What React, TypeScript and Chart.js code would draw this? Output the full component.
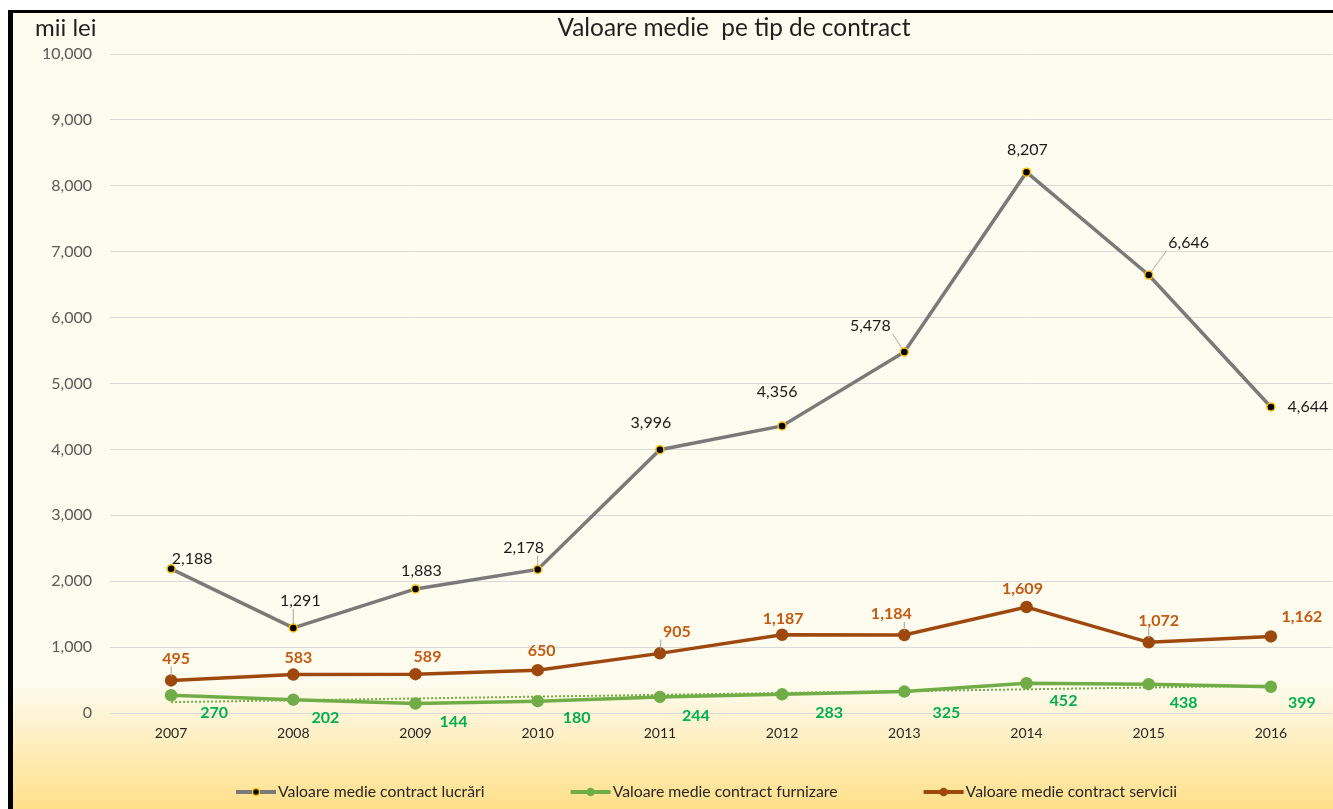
import React, { useEffect, useRef } from "react";
import { Chart, registerables } from "chart.js";

Chart.register(...registerables);

// ---- data ----
const years = ["2007", "2008", "2009", "2010", "2011", "2012", "2013", "2014", "2015", "2016"];
const lucrari = [2188, 1291, 1883, 2178, 3996, 4356, 5478, 8207, 6646, 4644];
const furnizare = [270, 202, 144, 180, 244, 283, 325, 452, 438, 399];
const servicii = [495, 583, 589, 650, 905, 1187, 1184, 1609, 1072, 1162];
// dotted linear trendline of "furnizare", read at its two ends
const trendFurnizare = [165, null, null, null, null, null, null, null, null, 415];
const yTicksMax = 10000;
const yTicksStep = 1000;

const seriesNames = [
  "Valoare medie contract lucrări",
  "Valoare medie contract furnizare",
  "Valoare medie contract servicii",
];
const titleText = "Valoare medie  pe tip de contract";
const unitText = "mii lei";

// ---- label layout (offsets of label centre from its point, px) ----
const lucrariLabelOff = [[21, -10], [7, -27], [6, -18], [-14, -22], [-9, -27], [-5, -34], [-34, -26], [1, -22], [40, -32], [37, 0]];
const lucrariLeader = [0, 1, 0, 1, 0, 0, 1, 0, 1, 0];
const serviciiLabelOff = [[5, -22], [5, -17], [12, -17], [4, -19], [17, -22], [1, -16], [-13, -21], [-4, -18], [10, -22], [31, -20]];
const serviciiLeader = [1, 0, 0, 0, 1, 0, 1, 0, 1, 0];
const furnizareLabelOff = [[43, 18], [32, 18], [38, 18], [39, 17], [36, 19], [47, 18], [42, 21], [37, 18], [35, 19], [31, 16]];

const GRAY = "#7A7A7A";
const GREEN = "#70AD47";
const BROWN = "#9E480E";
const FONT = "Lato, 'Open Sans', sans-serif";

const fmt = (v: number) => v.toLocaleString("en-US");

const overlayPlugin = {
  id: "overlay",
  afterDatasetsDraw(chart: any) {
    const ctx = chart.ctx as CanvasRenderingContext2D;
    const groups = [
      { ds: 0, values: lucrari, off: lucrariLabelOff, leader: lucrariLeader, color: "#1a1a1a", bold: false },
      { ds: 1, values: servicii, off: serviciiLabelOff, leader: serviciiLeader, color: "#C55A11", bold: true },
      { ds: 2, values: furnizare, off: furnizareLabelOff, leader: null as any, color: "#00B050", bold: true },
    ];
    ctx.save();
    for (const g of groups) {
      const meta = chart.getDatasetMeta(g.ds);
      ctx.font = `${g.bold ? "bold " : ""}16px ${FONT}`;
      meta.data.forEach((pt: any, i: number) => {
        const [dx, dy] = g.off[i];
        const lx = pt.x + dx;
        const ly = pt.y + dy;
        const text = fmt(g.values[i]);
        const w = ctx.measureText(text).width;
        if (g.leader && g.leader[i]) {
          const bx0 = lx - w / 2 - 2, bx1 = lx + w / 2 + 2, by0 = ly - 8, by1 = ly + 8;
          const nx = Math.min(Math.max(pt.x, bx0), bx1);
          const ny = Math.min(Math.max(pt.y, by0), by1);
          const vx = nx - pt.x, vy = ny - pt.y;
          const len = Math.hypot(vx, vy) || 1;
          ctx.strokeStyle = "#A6A6A6";
          ctx.lineWidth = 1;
          ctx.beginPath();
          ctx.moveTo(pt.x + (vx / len) * 4, pt.y + (vy / len) * 4);
          ctx.lineTo(nx, ny);
          ctx.stroke();
        }
        ctx.fillStyle = g.color;
        ctx.textAlign = "center";
        ctx.textBaseline = "middle";
        ctx.fillText(text, lx, ly);
      });
    }
    ctx.restore();
  },
  afterDraw(chart: any) {
    const ctx = chart.ctx as CanvasRenderingContext2D;
    const area = chart.chartArea;
    ctx.save();
    // title
    ctx.fillStyle = "#1f1f1f";
    ctx.font = `24.4px ${FONT}`;
    ctx.textAlign = "center";
    ctx.textBaseline = "middle";
    ctx.fillText(titleText, 721, 15);
    // unit
    ctx.font = `24px ${FONT}`;
    ctx.textAlign = "left";
    ctx.fillText(unitText, 22, 15);

    // legend
    const styles = [
      { color: GRAY, fill: "#000000", border: "#FFC000" },
      { color: GREEN, fill: GREEN, border: GREEN },
      { color: BROWN, fill: BROWN, border: BROWN },
    ];
    ctx.font = `15.8px ${FONT}`;
    let x = area.left + 126;
    const y = 779;
    seriesNames.forEach((name, i) => {
      const s = styles[i];
      ctx.strokeStyle = s.color;
      ctx.lineWidth = 4;
      ctx.beginPath();
      ctx.moveTo(x, y);
      ctx.lineTo(x + 40, y);
      ctx.stroke();
      ctx.beginPath();
      ctx.arc(x + 20, y, 3.5, 0, Math.PI * 2);
      ctx.fillStyle = s.fill;
      ctx.fill();
      ctx.lineWidth = 1.5;
      ctx.strokeStyle = s.border;
      ctx.stroke();
      ctx.fillStyle = "#262626";
      ctx.textAlign = "left";
      ctx.textBaseline = "middle";
      ctx.fillText(name, x + 42, y);
      x += 42 + ctx.measureText(name).width + 86;
    });
    ctx.restore();
  },
};

export default function App() {
  const ref = useRef<HTMLCanvasElement | null>(null);

  useEffect(() => {
    if (!ref.current) return;
    const chart = new Chart(ref.current, {
      type: "line",
      data: {
        labels: years,
        datasets: [
          {
            label: seriesNames[0],
            data: lucrari,
            borderColor: GRAY,
            borderWidth: 3.5,
            pointRadius: 4,
            pointBackgroundColor: "#000000",
            pointBorderColor: "#FFC000",
            pointBorderWidth: 1.5,
            tension: 0,
          },
          {
            label: seriesNames[2],
            data: servicii,
            borderColor: BROWN,
            borderWidth: 3.5,
            pointRadius: 4.5,
            pointBackgroundColor: BROWN,
            pointBorderColor: BROWN,
            tension: 0,
          },
          {
            label: seriesNames[1],
            data: furnizare,
            borderColor: GREEN,
            borderWidth: 3.5,
            pointRadius: 4.5,
            pointBackgroundColor: GREEN,
            pointBorderColor: GREEN,
            tension: 0,
          },
          {
            label: "trend",
            data: trendFurnizare as any,
            borderColor: GREEN,
            borderWidth: 2,
            borderDash: [2, 2],
            pointRadius: 0,
            spanGaps: true,
            tension: 0,
          },
        ],
      },
      options: {
        responsive: false,
        animation: false,
        layout: { autoPadding: false, padding: { top: 41, left: 0, right: 1, bottom: 56 } },
        plugins: {
          legend: { display: false },
          title: { display: false },
          tooltip: { enabled: false },
        },
        scales: {
          x: {
            offset: true,
            grid: { display: false, drawTicks: false },
            border: { display: false },
            ticks: { color: "#262626", font: { family: FONT, size: 14 }, padding: 12, maxRotation: 0 },
            afterFit: (s: any) => {
              s.height = 40;
              s.paddingLeft = 0;
              s.paddingRight = 0;
            },
          },
          y: {
            min: 0,
            max: yTicksMax,
            grid: { color: "#D9D9D9", lineWidth: 1, drawTicks: false },
            border: { display: false },
            ticks: {
              stepSize: yTicksStep,
              color: "#595959",
              font: { family: FONT, size: 16 },
              padding: 18,
              callback: (v: any) => fmt(Number(v)),
            },
            afterFit: (s: any) => {
              s.width = 97;
              s.paddingTop = 0;
              s.paddingBottom = 0;
            },
          },
        },
      },
      plugins: [overlayPlugin],
    });
    return () => chart.destroy();
  }, []);

  return (
    <div style={{ position: "fixed", left: 0, top: 0, width: 1333, height: 809, background: "#ffffff", overflow: "hidden" }}>
      <div
        style={{
          position: "absolute",
          left: 8,
          top: 10,
          width: 1330,
          height: 799,
          borderLeft: "5px solid #000",
          borderTop: "3px solid #000",
          background: "linear-gradient(to bottom, #FEFBEF 0px, #FEFBEF 670px, #FFE08A 796px)",
        }}
      >
        <canvas ref={ref} width={1320} height={796} style={{ display: "block" }} />
      </div>
    </div>
  );
}
